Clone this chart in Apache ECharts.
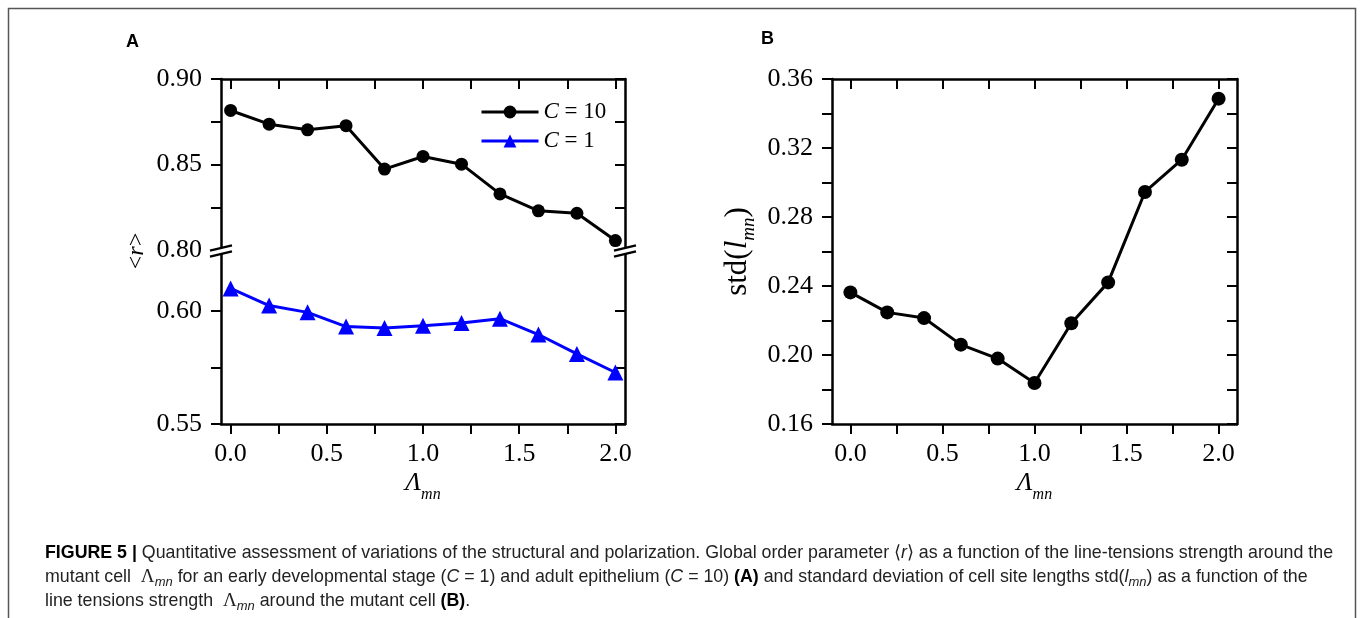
<!DOCTYPE html>
<html>
<head>
<meta charset="utf-8">
<script src="https://cdn.jsdelivr.net/npm/echarts@6/dist/echarts.min.js"></script>
<style>
  html, body { margin: 0; padding: 0; background: #fff; }
  #chartmain { width: 1360px; height: 618px; }
</style>
</head>
<body>
<div id="chartmain"></div>
<script>
// values
var lambdaVals = [0.0, 0.2, 0.4, 0.6, 0.8, 1.0, 1.2, 1.4, 1.6, 1.8, 2.0];
var rC10 = [0.8816, 0.8736, 0.8703, 0.8727, 0.8473, 0.8547, 0.8502, 0.8328, 0.8229, 0.8215, 0.8055];
var rC1 = [0.6100, 0.6024, 0.5994, 0.5931, 0.5925, 0.5935, 0.5947, 0.5966, 0.5896, 0.5810, 0.5728];
var stdL = [0.2363, 0.2247, 0.2214, 0.2060, 0.1979, 0.1838, 0.2184, 0.2421, 0.2945, 0.3132, 0.3486];

var xLabelVals = [0, 0.5, 1, 1.5, 2];
var xTickVals = [0, 0.25, 0.5, 0.75, 1, 1.25, 1.5, 1.75, 2];
var yTopLabelVals = [0.80, 0.85, 0.90];
var yTopTickVals = [0.80, 0.825, 0.85, 0.875, 0.90];
var yBotLabelVals = [0.55, 0.60];
var yBotTickVals = [0.55, 0.575, 0.60];
var yBLabelVals = [0.16, 0.20, 0.24, 0.28, 0.32, 0.36];
var yBTickVals = [0.16, 0.18, 0.20, 0.22, 0.24, 0.26, 0.28, 0.30, 0.32, 0.34, 0.36];

function pairs(xs, ys) {
  var out = [];
  for (var i = 0; i < xs.length; i++) out.push([xs[i], ys[i]]);
  return out;
}

var serif = 'Liberation Serif';
var lineW = 2.5;

// one axis side of a frame
function axis(o) {
  var a = {
    gridIndex: o.grid,
    type: 'value',
    position: o.pos,
    min: o.min,
    max: o.max,
    splitLine: { show: false },
    axisLine: { show: true, onZero: false, lineStyle: { color: '#000', width: lineW } },
    axisTick: {
      show: true,
      inside: !o.labels,
      length: 10,
      customValues: o.ticks,
      lineStyle: { color: '#000', width: 2 }
    },
    axisLabel: { show: false }
  };
  if (o.labels) {
    a.axisLabel = {
      show: true,
      customValues: o.labels,
      margin: o.margin,
      fontFamily: serif,
      fontSize: 26,
      color: '#000',
      formatter: function (v) { return v.toFixed(o.digits); }
    };
  }
  return a;
}

var axisNameRich = {
  L: { fontFamily: serif, fontStyle: 'italic', fontSize: 26, color: '#000', lineHeight: 28 },
  s: { fontFamily: serif, fontStyle: 'italic', fontSize: 16, color: '#000', lineHeight: 14, padding: [24, 0, 0, 0] }
};

var capRich = {
  b: { fontFamily: 'Liberation Sans', fontWeight: 'bold', fontSize: 17.8, fill: '#000', lineHeight: 24 },
  i: { fontFamily: 'Liberation Sans', fontStyle: 'italic', fontSize: 17.8, fill: '#222', lineHeight: 24 },
  L: { fontFamily: serif, fontSize: 19, fill: '#222', lineHeight: 24 },
  sub: { fontFamily: 'Liberation Sans', fontStyle: 'italic', fontSize: 13, fill: '#222', lineHeight: 13, padding: [10, 0, 0, 0] }
};

function capLine(y, text) {
  return {
    type: 'text', left: 45, top: y, z: 10,
    style: {
      text: text, rich: capRich,
      fontFamily: 'Liberation Sans', fontSize: 17.8, fill: '#222', lineHeight: 24
    }
  };
}

function breakMark(cx, cy) {
  var d = 3, w = 11, h = 2.6;
  return [
    { type: 'polygon', z: 100, shape: { points: [[cx - w, cy - d + h], [cx + w, cy - d - h], [cx + w, cy + d - h], [cx - w, cy + d + h]] },
      style: { fill: '#fff' } },
    { type: 'line', z: 101, shape: { x1: cx - w, y1: cy - d + h, x2: cx + w, y2: cy - d - h }, style: { stroke: '#000', lineWidth: 2.5 } },
    { type: 'line', z: 101, shape: { x1: cx - w, y1: cy + d + h, x2: cx + w, y2: cy + d - h }, style: { stroke: '#000', lineWidth: 2.5 } }
  ];
}

var gridA = { left: 221, width: 404, top: 79, mid: 250, bottom: 424 };
var gridB = { left: 832, width: 405, top: 79, bottom: 424 };

var graphics = [
  { type: 'rect', z: 0, shape: { x: 8.5, y: 8.5, width: 1347, height: 700 }, style: { fill: 'none', stroke: '#555', lineWidth: 1.5 } },
  { type: 'text', left: 126, top: 33, style: { text: 'A', fontFamily: 'Liberation Sans', fontWeight: 'bold', fontSize: 18, fill: '#000' } },
  { type: 'text', left: 761, top: 30, style: { text: 'B', fontFamily: 'Liberation Sans', fontWeight: 'bold', fontSize: 18, fill: '#000' } },
  { type: 'text', x: 137, y: 251, rotation: Math.PI / 2, z: 10,
    style: {
      text: '<{i|r}>', align: 'center', verticalAlign: 'middle',
      fontFamily: serif, fontSize: 24, fill: '#000',
      rich: { i: { fontFamily: serif, fontStyle: 'italic', fontSize: 24, fill: '#000' } }
    } },
  capLine(541, '{b|FIGURE 5 |} Quantitative assessment of variations of the structural and polarization. Global order parameter \u27e8{i|r}\u27e9 as a function of the line-tensions strength around the'),
  capLine(565, 'mutant cell  {L|\u039b}{sub|mn} for an early developmental stage ({i|C} = 1) and adult epithelium ({i|C} = 10) {b|(A)} and standard deviation of cell site lengths std({i|l}{sub|mn}) as a function of the'),
  capLine(589, 'line tensions strength  {L|\u039b}{sub|mn} around the mutant cell {b|(B)}.')
].concat(breakMark(gridA.left, gridA.mid + 1)).concat(breakMark(gridA.left + gridA.width, gridA.mid + 1));

var option = {
  animation: false,
  backgroundColor: '#fff',
  grid: [
    { left: gridA.left, width: gridA.width, top: gridA.top, height: gridA.mid - gridA.top },
    { left: gridA.left, width: gridA.width, top: gridA.mid, height: gridA.bottom - gridA.mid },
    { left: gridB.left, width: gridB.width, top: gridB.top, height: gridB.bottom - gridB.top }
  ],
  xAxis: [
    axis({ grid: 0, pos: 'top', min: -0.05, max: 2.05, ticks: xTickVals }),
    Object.assign(axis({ grid: 1, pos: 'bottom', min: -0.05, max: 2.05, ticks: xTickVals, labels: xLabelVals, margin: 17, digits: 1 }), {
      name: '{L|\u039b}{s|mn}', nameLocation: 'middle', nameGap: 45, nameMoveOverlap: false,
      nameTextStyle: { rich: axisNameRich }
    }),
    Object.assign(axis({ grid: 2, pos: 'bottom', min: -0.1, max: 2.1, ticks: xTickVals, labels: xLabelVals, margin: 17, digits: 1 }), {
      name: '{L|\u039b}{s|mn}', nameLocation: 'middle', nameGap: 45, nameMoveOverlap: false,
      nameTextStyle: { rich: axisNameRich }
    }),
    axis({ grid: 2, pos: 'top', min: -0.1, max: 2.1, ticks: xTickVals })
  ],
  yAxis: [
    axis({ grid: 0, pos: 'left', min: 0.80, max: 0.90, ticks: yTopTickVals, labels: yTopLabelVals, margin: 19, digits: 2 }),
    axis({ grid: 0, pos: 'right', min: 0.80, max: 0.90, ticks: yTopTickVals }),
    axis({ grid: 1, pos: 'left', min: 0.55, max: 0.627, ticks: yBotTickVals, labels: yBotLabelVals, margin: 19, digits: 2 }),
    axis({ grid: 1, pos: 'right', min: 0.55, max: 0.627, ticks: yBotTickVals }),
    Object.assign(axis({ grid: 2, pos: 'left', min: 0.16, max: 0.36, ticks: yBTickVals, labels: yBLabelVals, margin: 19, digits: 2 }), {
      name: 'std({i|l}{s|mn})', nameLocation: 'middle', nameGap: 78, nameMoveOverlap: false,
      nameTextStyle: {
        fontFamily: serif, fontSize: 31, color: '#000',
        rich: {
          i: { fontFamily: serif, fontStyle: 'italic', fontSize: 31, color: '#000', lineHeight: 32 },
          s: { fontFamily: serif, fontStyle: 'italic', fontSize: 19, color: '#000', lineHeight: 17, padding: [22, 0, 0, 0] }
        }
      }
    }),
    axis({ grid: 2, pos: 'right', min: 0.16, max: 0.36, ticks: yBTickVals })
  ],
  legend: {
    orient: 'vertical',
    left: 480,
    top: 99,
    padding: 0,
    itemWidth: 57,
    itemHeight: 16,
    itemGap: 3,
    data: ['C = 10', 'C = 1'],
    lineStyle: { width: 3 },
    formatter: function (name) { return '{i|C}{n|' + name.slice(1) + '}'; },
    textStyle: {
      lineHeight: 26,
      rich: {
        i: { fontFamily: serif, fontStyle: 'italic', fontSize: 23, color: '#000', lineHeight: 26 },
        n: { fontFamily: serif, fontSize: 23, color: '#000', lineHeight: 26 }
      }
    }
  },
  graphic: graphics,
  series: [
    {
      name: 'C = 10', type: 'line', xAxisIndex: 0, yAxisIndex: 0, clip: false,
      data: pairs(lambdaVals, rC10),
      symbol: 'circle', symbolSize: 13,
      lineStyle: { color: '#000', width: 3 },
      itemStyle: { color: '#000' }
    },
    {
      name: 'C = 1', type: 'line', xAxisIndex: 1, yAxisIndex: 2, clip: false,
      data: pairs(lambdaVals, rC1),
      symbol: 'triangle', symbolSize: 16,
      lineStyle: { color: '#0000ff', width: 3 },
      itemStyle: { color: '#0000ff' }
    },
    {
      name: 'std', type: 'line', xAxisIndex: 2, yAxisIndex: 4, clip: false,
      data: pairs(lambdaVals, stdL),
      symbol: 'circle', symbolSize: 14,
      lineStyle: { color: '#000', width: 3 },
      itemStyle: { color: '#000' }
    }
  ]
};

var myChart = echarts.init(document.getElementById('chartmain'));
myChart.setOption(option);
</script>
</body>
</html>
